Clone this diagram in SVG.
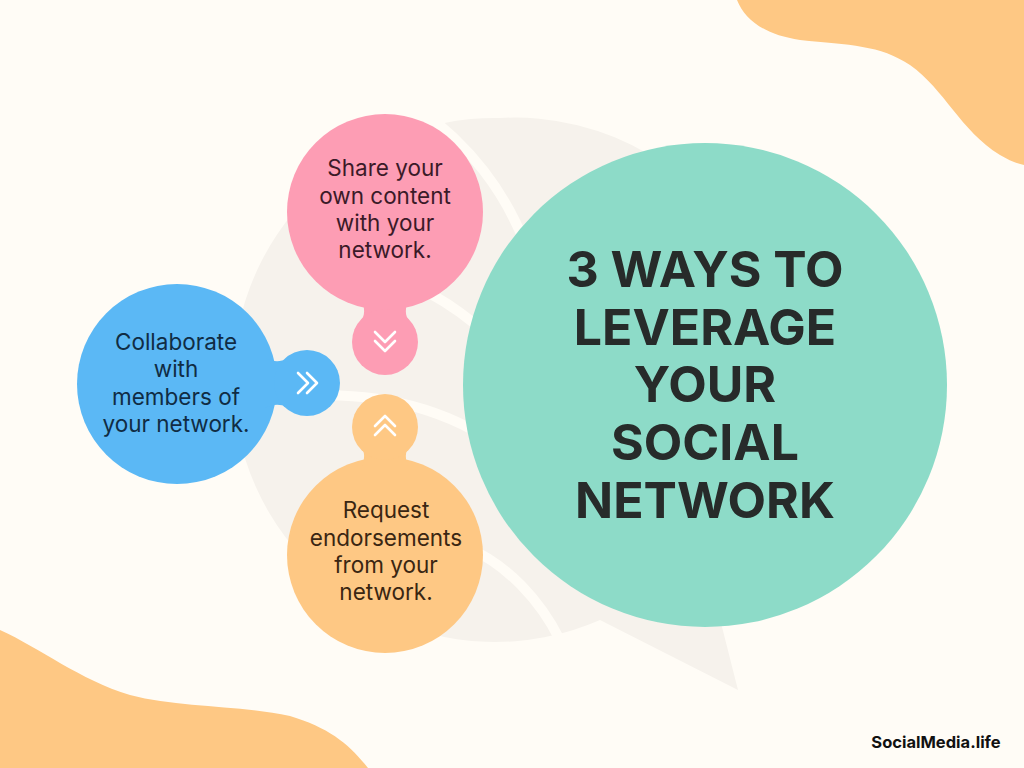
<svg xmlns="http://www.w3.org/2000/svg" width="1024" height="768" viewBox="0 0 1024 768">
<style>
.t{font-family:"Inter","DejaVu Sans",sans-serif;font-size:22.5px;text-anchor:middle}
.h{font-family:"Inter","DejaVu Sans",sans-serif;font-size:50px;font-weight:700;fill:#272b2a;text-anchor:middle}
.chev{fill:none;stroke:#ffffff;stroke-width:2.6;stroke-linecap:round;stroke-linejoin:round}
</style>
<rect width="1024" height="768" fill="#fffcf6"/>
<path d="M737 0 C745 20 765 35 800 40 C850 45 880 45 910 65 C945 90 960 130 1000 155 C1010 161 1018 164 1024 165 L1024 0 Z" fill="#fec884"/>
<path d="M0 630 C40 648 80 680 130 695 C180 708 240 705 290 716 C330 728 350 745 368 768 L0 768 Z" fill="#fec884"/>
<g id="watermark">
<path d="M500 118 A262 262 0 1 0 600 620 L738 690 L705 560 A262 262 0 0 0 500 118 Z" fill="#f6f2ec"/>
<path d="M420 110 C520 180 560 300 540 400 M300 250 C420 270 520 330 560 450 M262 400 C400 380 520 420 600 560 M330 560 C430 500 520 560 560 640" fill="none" stroke="#fffcf6" stroke-width="10"/>
</g>
<g id="node-pink">
<circle cx="385" cy="212" r="98" fill="#fd9db4"/>
<path d="M362 300 L408 300 C404 312 406 318 411 323 L359 323 C364 318 366 312 362 300 Z" fill="#fd9db4"/>
<circle cx="385" cy="342" r="33" fill="#fd9db4"/>
<path class="chev" d="M375 332 L385 342 L395 332 M375 341 L385 351 L395 341"/>
<text class="t" fill="#3b1a28"><tspan x="385" y="176">Share your</tspan><tspan x="385" y="204">own content</tspan><tspan x="385" y="231">with your</tspan><tspan x="385" y="258">network.</tspan></text>
</g>
<g id="node-blue">
<circle cx="177" cy="384" r="100" fill="#5bb8f5"/>
<path d="M265 358 L265 408 C273 404 280 404 287 407 L287 359 C280 362 273 362 265 358 Z" fill="#5bb8f5"/>
<circle cx="307" cy="383" r="33" fill="#5bb8f5"/>
<path class="chev" d="M298 373 L308 383 L298 393 M307 373 L317 383 L307 393"/>
<text class="t" fill="#102c44"><tspan x="176" y="350">Collaborate</tspan><tspan x="176" y="377">with</tspan><tspan x="176" y="405">members of</tspan><tspan x="176" y="432">your network.</tspan></text>
</g>
<g id="node-orange">
<circle cx="385" cy="555" r="98" fill="#fec884"/>
<path d="M362 467 L408 467 C404 455 406 449 411 446 L359 446 C364 449 366 455 362 467 Z" fill="#fec884"/>
<circle cx="385" cy="427" r="33" fill="#fec884"/>
<path class="chev" d="M375 426 L385 416 L395 426 M375 435 L385 425 L395 435"/>
<text class="t" fill="#3a2612"><tspan x="386" y="518">Request</tspan><tspan x="386" y="546">endorsements</tspan><tspan x="386" y="573">from your</tspan><tspan x="386" y="600">network.</tspan></text>
</g>
<g id="node-title">
<circle cx="705" cy="385" r="242" fill="#8ddbc8"/>
<text class="h"><tspan x="705" y="287">3 WAYS TO</tspan><tspan x="705" y="345">LEVERAGE</tspan><tspan x="705" y="402">YOUR</tspan><tspan x="705" y="460">SOCIAL</tspan><tspan x="705" y="518">NETWORK</tspan></text>
</g>
<g id="connectors"></g>
<text x="936" y="748" font-family="Inter, 'DejaVu Sans', sans-serif" font-size="16.5" font-weight="700" fill="#111" text-anchor="middle">SocialMedia.life</text>
</svg>
